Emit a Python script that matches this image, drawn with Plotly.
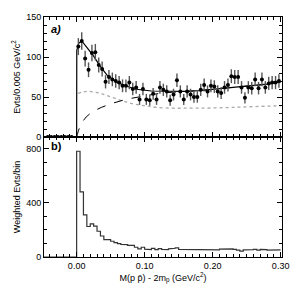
import plotly.graph_objects as go
import numpy as np

# --- data ---
pt_x_neg = [-0.0425, -0.0375, -0.0325, -0.0275, -0.0225, -0.0175, -0.0125, -0.0075]
pt_y_neg = [0, 0, 0, 0, 0, 0, 0, 0]

pt_x = [0.0025 + 0.005 * i for i in range(60)]
pt_y = [113, 120, 98, 84, 105, 106, 90, 85, 69, 75,
        72, 70, 68, 64, 64, 68, 60, 62, 47, 60,
        47, 46, 54, 47, 62, 59, 57, 46, 53, 71,
        57, 47, 57, 53, 50, 50, 59, 65, 57, 64,
        63, 57, 55, 62, 65, 76, 75, 75, 62, 49,
        62, 61, 72, 61, 72, 62, 67, 68, 68, 70]

fit_x = [0.0, 0.0002, 0.003, 0.0075, 0.015, 0.025, 0.035, 0.045, 0.06, 0.085, 0.11,
         0.135, 0.16, 0.18, 0.205, 0.23, 0.255, 0.28, 0.3]
fit_y = [0, 108, 117, 120, 112, 101, 88, 77, 68, 60, 57.5, 57, 57, 58, 60, 62, 64, 66, 69]

dot_x = [0.002, 0.008, 0.015, 0.024, 0.035, 0.044, 0.056, 0.068, 0.08, 0.093, 0.105, 0.118,
         0.142, 0.16, 0.18, 0.2, 0.23, 0.26, 0.3]
dot_y = [54.5, 56, 57, 56.5, 54.5, 52, 48.5, 45, 42, 40, 38.5, 37, 36, 36, 36, 36.3, 37, 38, 39]

dash_x = [0.0, 0.001, 0.005, 0.014, 0.029, 0.049, 0.073, 0.098, 0.122, 0.142, 0.16, 0.18,
          0.205, 0.23, 0.255, 0.28, 0.3]
dash_y = [0, 3, 13, 25, 34, 41, 47, 51, 54.5, 56, 57, 58, 60, 62, 64, 66, 69]

hist_edges = [0.005 * i for i in range(61)]
hist_vals = [780, 480, 310, 225, 245, 228, 190, 155, 128, 128,
             116, 106, 99, 92, 91, 86, 86, 72, 60, 72,
             58, 55, 64, 54, 62, 56, 54, 60, 64, 68,
             56, 55, 52, 55, 52, 54, 56, 53, 52, 54,
             54, 52, 58, 62, 62, 60, 56, 50, 44, 52,
             50, 54, 56, 50, 56, 54, 50, 52, 54, 52]

FONT = "Liberation Sans, Arial, sans-serif"

fig = go.Figure()

err_neg = [1.5] * len(pt_y_neg)
err = [np.sqrt(v) for v in pt_y]

# fit curves
fig.add_trace(go.Scatter(x=dot_x, y=dot_y, mode="lines", line=dict(color="#aaaaaa", width=1.3, dash="dot", shape="spline"),
                         xaxis="x", yaxis="y", showlegend=False))
fig.add_trace(go.Scatter(x=dash_x, y=dash_y, mode="lines", line=dict(color="black", width=1, dash="dash", shape="spline"),
                         xaxis="x", yaxis="y", showlegend=False))
fig.add_trace(go.Scatter(x=fit_x, y=fit_y, mode="lines", line=dict(color="black", width=1.2, shape="linear"),
                         xaxis="x", yaxis="y", showlegend=False))

# points
fig.add_trace(go.Scatter(x=pt_x_neg + pt_x, y=pt_y_neg + pt_y, mode="markers",
                         marker=dict(color="black", size=4),
                         error_y=dict(type="data", array=err_neg + err, color="#555555", thickness=1.4, width=0),
                         xaxis="x", yaxis="y", showlegend=False))

# histogram as step line
hx = [-0.048, 0.0]
hy = [0, 0]
for i, v in enumerate(hist_vals):
    hx += [hist_edges[i], hist_edges[i + 1]]
    hy += [v, v]
fig.add_trace(go.Scatter(x=hx, y=hy, mode="lines", line=dict(color="#333333", width=1.2),
                         xaxis="x2", yaxis="y2", showlegend=False))

axis_common = dict(showline=True, linecolor="black", linewidth=1, mirror="ticks",
                   ticks="inside", tickcolor="black", ticklen=5, tickwidth=1,
                   showgrid=False, zeroline=False,
                   tickfont=dict(family=FONT, size=9, color="black"))

fig.update_layout(
    width=304, height=291,
    margin=dict(l=44, r=22, t=17, b=34),
    plot_bgcolor="white", paper_bgcolor="white",
    xaxis=dict(range=[-0.048, 0.302], domain=[0, 1], anchor="y", showticklabels=False,
               dtick=0.1, tick0=0, minor=dict(dtick=0.01, ticks="inside", ticklen=3, tickcolor="black"),
               **axis_common),
    yaxis=dict(range=[0, 150], domain=[0.5, 1], anchor="x", dtick=50,
               minor=dict(dtick=10, ticks="inside", ticklen=3, tickcolor="black"),
               title=dict(text="Evts/0.005 GeV/c<sup>2</sup>", font=dict(family=FONT, size=9, color="black"), standoff=4),
               **axis_common),
    xaxis2=dict(range=[-0.048, 0.302], domain=[0, 1], anchor="y2", dtick=0.1, tick0=0,
                tickformat=".2f",
                minor=dict(dtick=0.01, ticks="inside", ticklen=3, tickcolor="black"),
                title=dict(text="M(p p\u0304) - 2m<sub>p</sub> (GeV/c<sup>2</sup>)", font=dict(family=FONT, size=9, color="black"), standoff=1),
                **axis_common),
    yaxis2=dict(range=[0, 885], domain=[0, 0.5], anchor="x2", dtick=400,
                minor=dict(dtick=100, ticks="inside", ticklen=3, tickcolor="black"),
                title=dict(text="Weighted Evts/bin", font=dict(family=FONT, size=9, color="black"), standoff=4),
                **axis_common),
    annotations=[
        dict(text="<b><i>a)</i></b>", x=0.02, y=0.985, xref="paper", yref="paper", xanchor="left", yanchor="top",
             showarrow=False, font=dict(family=FONT, size=11, color="black")),
        dict(text="<b>b)</b>", x=0.02, y=0.495, xref="paper", yref="paper", xanchor="left", yanchor="top",
             showarrow=False, font=dict(family=FONT, size=11, color="black")),
    ],
)

fig.write_html("out.html", config={"displayModeBar": False},
               post_script="document.body.style.margin='0';document.body.style.overflow='hidden';")
